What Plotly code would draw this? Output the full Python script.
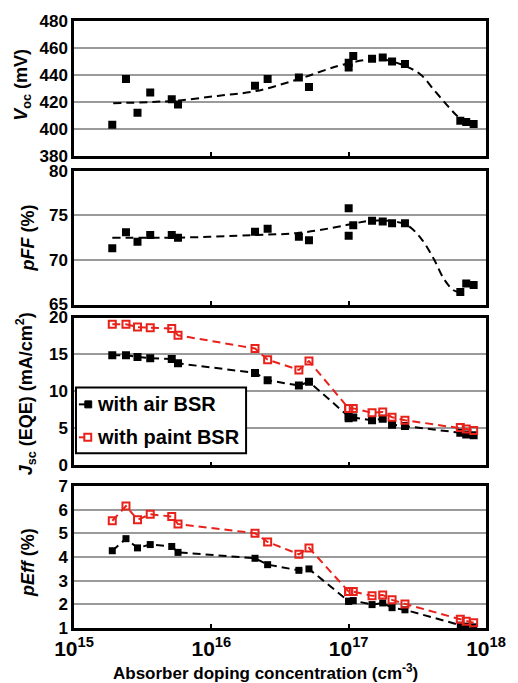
import plotly.graph_objects as go

# ---------------- data ----------------
doping = [1.90e15, 2.39e15, 2.90e15, 3.59e15, 5.15e15, 5.72e15, 2.08e16, 2.57e16,
          4.34e16, 5.14e16, 1.00e17, 1.00e17, 1.08e17, 1.48e17, 1.77e17, 2.07e17,
          2.57e17, 6.50e17, 7.18e17, 8.13e17]

voc = [403, 437, 412, 427, 422, 418, 432, 437, 438, 431, 449, 445.5, 454, 452,
       453, 450, 448, 406, 405, 403.5]
voc_fit_x = [1.93e15, 3.5e15, 5.7e15, 1.11e16, 2.11e16, 4.35e16, 8.4e16, 1.32e17,
             1.83e17, 2.67e17, 3.37e17, 4.17e17, 5.16e17, 6.09e17, 6.61e17]
voc_fit_y = [419, 419.8, 421, 424.4, 428, 437, 446.7, 451, 451.2, 446, 440, 429,
             418, 410, 407]

pff = [71.3, 73.1, 72.05, 72.8, 72.8, 72.5, 73.15, 73.5, 72.6, 72.2, 75.8, 72.7,
       73.9, 74.4, 74.3, 74.1, 74.1, 66.4, 67.35, 67.2]
pff_fit_x = [1.90e15, 5.74e15, 2.07e16, 4.15e16, 7.64e16, 1.11e17, 1.43e17, 2.16e17,
             2.67e17, 3.37e17, 4.17e17, 4.92e17, 5.80e17, 6.40e17]
pff_fit_y = [72.5, 72.5, 72.8, 73.0, 73.6, 74.1, 74.4, 74.3, 73.9, 72.4, 70.1, 67.9,
             66.6, 66.4]

jsc_air = [14.9, 14.9, 14.65, 14.5, 14.4, 13.8, 12.5, 11.5, 10.8, 11.3, 6.6, 6.35,
           6.45, 6.1, 6.3, 5.5, 5.3, 4.4, 4.15, 4.05]
jsc_paint = [19.1, 19.1, 18.7, 18.6, 18.5, 17.6, 15.8, 14.3, 12.9, 14.1, 7.7, 7.7,
             7.7, 7.1, 7.2, 6.5, 6.1, 5.1, 4.9, 4.7]

peff_air = [4.27, 4.78, 4.39, 4.53, 4.45, 4.2, 3.95, 3.68, 3.44, 3.5, 2.13, 2.13,
            2.16, 1.99, 2.06, 1.86, 1.77, 1.12, 1.08, 1.05]
peff_paint = [5.54, 6.16, 5.58, 5.81, 5.72, 5.4, 5.01, 4.64, 4.12, 4.39, 2.54, 2.54,
              2.54, 2.36, 2.4, 2.19, 2.02, 1.37, 1.29, 1.22]

legend_labels = ["with air BSR", "with paint BSR"]

x_tickvals = [1e15, 1e16, 1e17, 1e18]
x_ticktext = ["<b>10<sup>15</sup></b>", "<b>10<sup>16</sup></b>",
              "<b>10<sup>17</sup></b>", "<b>10<sup>18</sup></b>"]

# ---------------- styles ----------------
BLACK = "#000000"
RED = "#e8221b"
DASH = "8px,5px"
FONT = "Liberation Sans"

# plot-area geometry (pixels) for converting legend-box positions to paper coords
L, R, T, B = 74, 493, 20, 628
def px(xp):
    return (xp - L) / (R - L)
def py(yp):
    return (B - yp) / (B - T)

fig = go.Figure()

def black_sq(size=8):
    return dict(symbol="square", size=size, color=BLACK)

def red_open(size=7):
    return dict(symbol="square-open", size=size, color=RED, line=dict(color=RED, width=2))

# Panel 1: Voc
fig.add_trace(go.Scatter(x=voc_fit_x, y=voc_fit_y, mode="lines",
                         line=dict(color=BLACK, width=2, dash=DASH, shape="spline"),
                         xaxis="x", yaxis="y"))
fig.add_trace(go.Scatter(x=doping, y=voc, mode="markers", marker=black_sq(8), xaxis="x", yaxis="y"))

# Panel 2: pFF
fig.add_trace(go.Scatter(x=pff_fit_x, y=pff_fit_y, mode="lines",
                         line=dict(color=BLACK, width=2, dash=DASH, shape="spline"),
                         xaxis="x2", yaxis="y2"))
fig.add_trace(go.Scatter(x=doping, y=pff, mode="markers", marker=black_sq(8), xaxis="x2", yaxis="y2"))

# Panel 3: Jsc
fig.add_trace(go.Scatter(x=doping, y=jsc_air, mode="lines+markers", name=legend_labels[0],
                         line=dict(color=BLACK, width=2, dash=DASH), marker=black_sq(8),
                         xaxis="x3", yaxis="y3"))
fig.add_trace(go.Scatter(x=doping, y=jsc_paint, mode="lines+markers", name=legend_labels[1],
                         line=dict(color=RED, width=2, dash=DASH), marker=red_open(7),
                         xaxis="x3", yaxis="y3"))

# Panel 4: pEff
fig.add_trace(go.Scatter(x=doping, y=peff_air, mode="lines+markers",
                         line=dict(color=BLACK, width=2, dash=DASH), marker=black_sq(7),
                         xaxis="x4", yaxis="y4"))
fig.add_trace(go.Scatter(x=doping, y=peff_paint, mode="lines+markers",
                         line=dict(color=RED, width=2, dash=DASH), marker=red_open(7),
                         xaxis="x4", yaxis="y4"))

def xax(anchor, labels):
    return dict(type="log", range=[15, 18], anchor=anchor, domain=[0, 1],
                tickvals=x_tickvals, ticktext=x_ticktext, showticklabels=labels,
                ticks="inside", ticklen=4, tickwidth=1.5, tickcolor=BLACK,
                showgrid=False, zeroline=False, showline=True, linecolor=BLACK,
                linewidth=2.5, mirror=True,
                tickfont=dict(family=FONT, size=21, color=BLACK))

def yax(anchor, domain, rng, vals):
    return dict(anchor=anchor, domain=domain, range=rng, tickvals=vals,
                ticks="", showgrid=True, gridcolor="#9a9a9a", gridwidth=1.5,
                zeroline=False, showline=True, linecolor=BLACK, linewidth=2.5, mirror=True,
                tickfont=dict(family=FONT, size=17, color=BLACK, weight="bold"))

fig.update_layout(
    width=518, height=683,
    margin=dict(l=L, r=518 - R, t=T, b=683 - B),
    paper_bgcolor="white", plot_bgcolor="white",
    xaxis=xax("y", False),
    xaxis2=xax("y2", False),
    xaxis3=xax("y3", False),
    xaxis4=xax("y4", True),
    yaxis=yax("x", [0.778, 1.0], [380, 480], [380, 400, 420, 440, 460, 480]),
    yaxis2=yax("x2", [0.5329, 0.7533], [65, 80], [65, 70, 75, 80]),
    yaxis3=yax("x3", [0.2681, 0.5115], [0, 20], [0, 5, 10, 15, 20]),
    yaxis4=yax("x4", [0.0, 0.2336], [1, 7], [1, 2, 3, 4, 5, 6, 7]),
    showlegend=False,
)

# ---------- legend box (drawn inside the Jsc panel) ----------
shapes = []
shapes.append(dict(type="rect", xref="paper", yref="paper", layer="above",
                   x0=px(76), x1=px(249), y0=py(453), y1=py(387),
                   fillcolor="white", line=dict(color=BLACK, width=2)))
key_y = [404, 437]
key_colors = [BLACK, RED]
for i, (ky, col) in enumerate(zip(key_y, key_colors)):
    shapes.append(dict(type="line", xref="paper", yref="paper", layer="above",
                       x0=px(79), x1=px(86), y0=py(ky), y1=py(ky),
                       line=dict(color=col, width=2)))
    if i == 0:
        shapes.append(dict(type="rect", xref="paper", yref="paper", layer="above",
                           x0=px(85), x1=px(92), y0=py(ky + 3.5), y1=py(ky - 3.5),
                           fillcolor=BLACK, line=dict(color=BLACK, width=1)))
    else:
        shapes.append(dict(type="rect", xref="paper", yref="paper", layer="above",
                           x0=px(84.5), x1=px(91.5), y0=py(ky + 3.5), y1=py(ky - 3.5),
                           fillcolor="white", line=dict(color=RED, width=2)))
    fig.add_annotation(text="<b>" + legend_labels[i] + "</b>", xref="paper", yref="paper",
                       x=px(95), y=py(ky), xanchor="left", yanchor="middle", showarrow=False,
                       font=dict(family=FONT, size=20, color=BLACK, weight="bold"))
fig.update_layout(shapes=shapes)

def ytitle(text, px_x, py_center):
    fig.add_annotation(text=text, xref="paper", yref="paper",
                       x=px(px_x), y=py(py_center),
                       xanchor="center", yanchor="middle", textangle=-90, showarrow=False,
                       font=dict(family=FONT, size=18, color=BLACK, weight="bold"))

ytitle("<b><i>V</i><sub>oc</sub> (mV)</b>", 22, 84)
ytitle("<b><i>pFF</i> (%)</b>", 27, 237)
ytitle("<b><i>J</i><sub>sc</sub> (EQE) (mA/cm<sup>2</sup>)</b>", 25, 393)
ytitle("<b><i>pEff</i> (%)</b>", 27, 562)

fig.add_annotation(text="<b>Absorber doping concentration (cm<sup>-3</sup>)</b>",
                   xref="paper", yref="paper", x=px(269), y=py(672),
                   xanchor="center", yanchor="middle", showarrow=False,
                   font=dict(family=FONT, size=17, color=BLACK, weight="bold"))

fig.write_html("out.html")
